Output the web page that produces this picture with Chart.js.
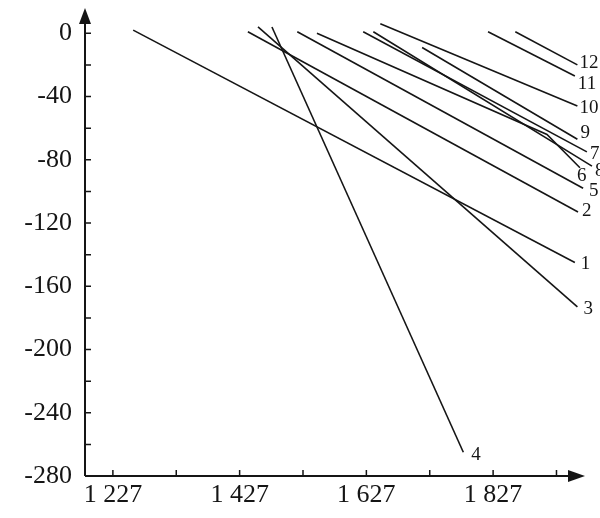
<!DOCTYPE html>
<html>
<head>
<meta charset="utf-8">
<script src="https://cdn.jsdelivr.net/npm/chart.js@4"></script>
<style>
  html, body { margin: 0; padding: 0; background: #fff; }
  #wrap { width: 600px; height: 518px; }
</style>
</head>
<body>
<div id="wrap"><canvas id="chart"></canvas></div>
<script>
// values
const lineNames = ['1', '2', '3', '4', '5', '6', '7', '8', '9', '10', '11', '12'];
const lineX = [
    [1259, 1956], [1440, 1961], [1456, 1960], [1478, 1780],
    [1518, 1969], [1549, 1912, 1964], [1622, 1975], [1638, 1983],
    [1715, 1960], [1649, 1960], [1819, 1956], [1862, 1960]
];
const lineY = [
    [2, -145], [1, -113], [4, -173], [4, -265],
    [1, -98], [0, -64, -85], [1, -75], [1, -84],
    [-9, -67], [6, -46], [1, -27], [1, -20]
];
const xTicks = [1227, 1327, 1427, 1527, 1627, 1727, 1827, 1927];
const xLabeled = [1227, 1427, 1627, 1827];
const yTicks = [0, -20, -40, -60, -80, -100, -120, -140, -160, -180, -200, -220, -240, -260, -280];
const yLabeled = [0, -40, -80, -120, -160, -200, -240, -280];

// label nudges (px) from each line's end point
const labelOffsets = [
    [6, 1], [4, -1], [6, 2], [8, 3], [6, 3], [-3, 8],
    [3, 2], [3, 5], [3, -6], [2, 2], [3, 8], [2, -2]
];

const INK = '#151515';
const SERIF = '"Liberation Serif", "DejaVu Serif", serif';

const fmtX = v => { const s = String(v); return s.slice(0, 1) + ' ' + s.slice(1); };

const axesPlugin = {
    id: 'axes',
    afterDraw(chart) {
        const { ctx, chartArea: a, scales: { x, y } } = chart;
        const ox = a.left, oy = a.bottom;
        ctx.save();
        ctx.strokeStyle = INK;
        ctx.fillStyle = INK;
        ctx.lineWidth = 2;
        ctx.beginPath();
        ctx.moveTo(ox, oy); ctx.lineTo(ox, a.top + 8);
        ctx.moveTo(ox, oy); ctx.lineTo(a.right - 10, oy);
        ctx.stroke();
        // arrow heads
        ctx.beginPath();
        ctx.moveTo(ox, a.top); ctx.lineTo(ox - 6, a.top + 16); ctx.lineTo(ox + 6, a.top + 16); ctx.closePath();
        ctx.fill();
        ctx.beginPath();
        ctx.moveTo(a.right, oy); ctx.lineTo(a.right - 17, oy - 6); ctx.lineTo(a.right - 17, oy + 6); ctx.closePath();
        ctx.fill();
        // tick marks
        ctx.lineWidth = 1.5;
        ctx.beginPath();
        xTicks.forEach(v => { const px = x.getPixelForValue(v); ctx.moveTo(px, oy); ctx.lineTo(px, oy - 6); });
        yTicks.forEach(v => { if (v === -280) return; const py = y.getPixelForValue(v); ctx.moveTo(ox, py); ctx.lineTo(ox + 6, py); });
        ctx.stroke();
        ctx.restore();
    }
};

const endLabelPlugin = {
    id: 'endLabels',
    afterDatasetsDraw(chart) {
        const { ctx } = chart;
        ctx.save();
        ctx.fillStyle = INK;
        ctx.font = '19px ' + SERIF;
        ctx.textAlign = 'left';
        ctx.textBaseline = 'middle';
        chart.data.datasets.forEach((ds, i) => {
            const pts = chart.getDatasetMeta(i).data;
            const p = pts[pts.length - 1];
            const [dx, dy] = labelOffsets[i];
            ctx.fillText(lineNames[i], p.x + dx, p.y + dy);
        });
        ctx.restore();
    }
};

const datasets = lineNames.map((name, i) => ({
    label: name,
    data: lineX[i].map((xv, j) => ({ x: xv, y: lineY[i][j] })),
    borderColor: INK,
    borderWidth: 1.6,
    pointRadius: 0,
    tension: 0,
    fill: false,
    clip: false
}));

new Chart(document.getElementById('chart'), {
    type: 'line',
    data: { datasets },
    options: {
        responsive: true,
        maintainAspectRatio: false,
        animation: false,
        layout: { padding: { top: 8, right: 15, left: 0, bottom: 0 } },
        plugins: { legend: { display: false }, tooltip: { enabled: false } },
        scales: {
            x: {
                type: 'linear', min: 1183, max: 1972,
                grid: { display: false, drawTicks: false },
                border: { display: false },
                afterBuildTicks: s => { s.ticks = xTicks.map(v => ({ value: v })); },
                afterFit: s => { s.height = 42; s.paddingLeft = 0; s.paddingRight = 0; },
                ticks: {
                    autoSkip: false, maxRotation: 0, padding: 4, color: INK,
                    font: { family: SERIF, size: 26 },
                    callback: v => xLabeled.includes(v) ? fmtX(v) : ''
                }
            },
            y: {
                type: 'linear', min: -280, max: 16,
                grid: { display: false, drawTicks: false },
                border: { display: false },
                afterBuildTicks: s => { s.ticks = yTicks.map(v => ({ value: v })); },
                afterFit: s => { s.width = 85; s.paddingTop = 0; s.paddingBottom = 0; },
                ticks: {
                    autoSkip: false, padding: 13, color: INK,
                    font: { family: SERIF, size: 26 },
                    callback: v => yLabeled.includes(v) ? String(v) : ''
                }
            }
        }
    },
    plugins: [axesPlugin, endLabelPlugin]
});
</script>
</body>
</html>
